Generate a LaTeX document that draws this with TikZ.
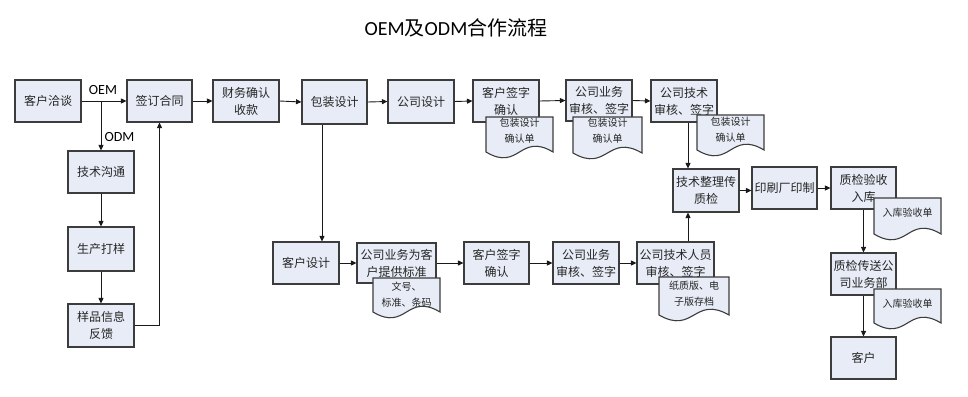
\documentclass[tikz,border=0pt]{standalone}
\usepackage{fontspec}
\setmainfont{Noto Sans CJK SC}
\newfontfamily\latf{Carlito}
\usetikzlibrary{arrows.meta}
\definecolor{boxfill}{RGB}{231,236,246}
\definecolor{boxline}{RGB}{60,60,60}
\definecolor{lnk}{RGB}{25,25,25}
\tikzset{
 box/.style={draw=boxline, line width=1.1pt, fill=boxfill, minimum width=66pt, minimum height=42pt, inner sep=1pt, align=center, font=\fontsize{12}{17}\selectfont, text=black!85},
 docshp/.style={draw=boxline, line width=1.1pt, fill=boxfill},
 doctxt/.style={align=center, font=\fontsize{10}{16}\selectfont, inner sep=0pt, text=black!85},
 arr/.style={draw=lnk, line width=0.9pt, -{Triangle[length=5.5pt,width=5pt]}},
 lab/.style={font=\latf\fontsize{14}{16}\selectfont, inner sep=0pt},
}
\newcommand{\mydoc}[4]{\draw[docshp] (#1,#2) -- (#3,#2) -- (#3,#4) .. controls ({(#1+#3)/2},{#4-20}) and ({(#1+#3)/2},{#4+20}) .. (#1,#4) -- cycle;}
\begin{document}
\begin{tikzpicture}[x=1pt,y=-1pt]
\useasboundingbox (0,0) rectangle (968,396);
\node[font=\fontsize{20}{24}\selectfont] (title) at (456,28) {{\latf OEM}及{\latf ODM}合作流程};
% top row
\node[box] (A) at (48,101) {客户洽谈};
\node[box, minimum width=65pt] (B) at (159.5,101) {签订合同};
\node[box] (C) at (246,101) {财务确认\\收款};
\node[box, minimum width=65pt, minimum height=44pt] (D) at (334.5,102) {包装设计};
\node[box, minimum height=43pt] (E) at (421,101.5) {公司设计};
\node[box] (F) at (506,101) {客户签字\\确认};
\node[box, minimum height=41pt] (G) at (599,100.5) {公司业务\\审核、签字};
\node[box] (H) at (684,101) {公司技术\\审核、签字};
\node[box, minimum height=43pt] (I) at (706,190.5) {技术整理传\\质检};
\node[box, minimum width=65pt] (J) at (784.5,188) {印刷厂印制};
\node[box, minimum width=65pt] (K) at (863.5,188) {质检验收\\入库};
\node[box, minimum width=65pt] (L) at (863.5,274) {质检传送公\\司业务部};
\node[box, minimum width=65pt] (M) at (863.5,358) {客户};
% left column
\node[box] (N) at (101,172) {技术沟通};
\node[box, minimum height=44pt] (O) at (101,249) {生产打样};
\node[box, minimum height=43pt] (P) at (101,325.5) {样品信息\\反馈};
% bottom row
\node[box] (Q) at (306,263) {客户设计};
\node[box, minimum width=79pt, minimum height=40pt] (R) at (396.5,263) {公司业务为客\\户提供标准};
\node[box, minimum width=65pt] (S) at (496.5,263) {客户签字\\确认};
\node[box] (T) at (586,263) {公司业务\\审核、签字};
\node[box, minimum width=77pt] (U) at (675.5,263) {公司技术人员\\审核、签字};
% helper x positions
\coordinate (xd) at (322,0);
\coordinate (xh) at (688,0);
% connectors
\draw[arr] (A.east) -- (B.west);
\draw[arr] (A.east -| N.north) -- (N.north);
\draw[arr] (B.east) -- (C.west);
\draw[arr] (C.east) -- (D.west);
\draw[arr] (D.east) -- (E.west);
\draw[arr] (E.east) -- (F.west);
\draw[arr] (F.east) -- (G.west);
\draw[arr] (G.east) -- (H.west);
\draw[arr] (H.south -| xh) -- (I.north -| xh);
\draw[arr] (I.east) -- (J.west |- I.east);
\draw[arr] (J.east) -- (K.west);
\draw[arr] (K.south) -- (L.north);
\draw[arr] (L.south) -- (M.north);
\draw[arr] (N.south) -- (O.north);
\draw[arr] (O.south) -- (P.north);
\draw[arr] (P.east) -| (B.south);
\draw[arr] (D.south -| xd) -- (Q.north -| xd);
\draw[arr] (Q.east) -- (R.west);
\draw[arr] (R.east) -- (S.west);
\draw[arr] (S.east) -- (T.west);
\draw[arr] (T.east) -- (U.west);
\draw[arr] (U.north -| xh) -- (I.south -| xh);
% labels
\node[lab] (oem) at (103,90) {OEM};
\node[lab] (odm) at (119.5,137) {ODM};
% documents
\mydoc{486}{117}{553}{152}
\node[doctxt] (tF) at (519.5,131) {包装设计\\确认单};
\mydoc{573}{117}{642}{153}
\node[doctxt] (tG) at (607.5,131) {包装设计\\确认单};
\mydoc{697}{115}{764}{150}
\node[doctxt] (tH) at (730.5,130) {包装设计\\确认单};
\mydoc{874}{198}{941}{234}
\node[doctxt] (tK) at (907.5,213) {入库验收单};
\mydoc{874}{289}{941}{323}
\node[doctxt] (tL) at (907.5,304) {入库验收单};
\mydoc{373}{278}{440}{312}
\node[doctxt] (tR) at (406.5,295) {文号、\\标准、条码};
\mydoc{659}{277}{729}{315}
\node[doctxt] (tU) at (694,294) {纸质版、电\\子版存档};
\end{tikzpicture}
\end{document}
